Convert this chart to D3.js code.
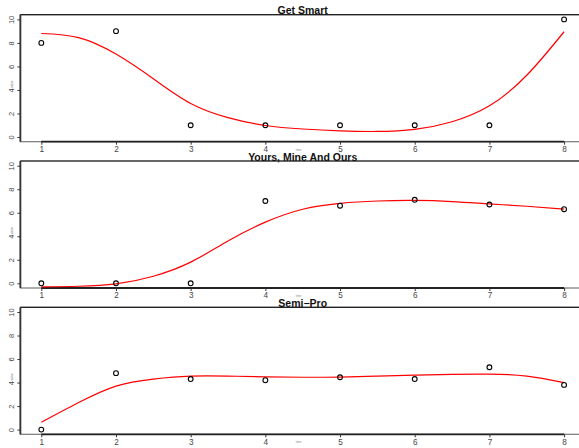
<!DOCTYPE html>
<html><head><meta charset="utf-8">
<script src="https://cdn.jsdelivr.net/npm/d3@7"></script>
<style>body{margin:0;background:#fff}svg{display:block}</style>
</head><body>
<svg id="c" width="579" height="448"></svg>
<script>
const titles = ["Get Smart", "Yours, Mine And Ours", "Semi\u2212Pro"];
const xs = [1, 2, 3, 4, 5, 6, 7, 8];
const xTicks = [1, 2, 3, 4, 5, 6, 7, 8];
const yTicks = [0, 2, 4, 6, 8, 10];
const pointsGetSmart = [8, 9, 1, 1, 1, 1, 1, 10];
const pointsYours = [0, 0, 0, 7, 6.6, 7.1, 6.7, 6.3];
const pointsSemiPro = [0, 4.8, 4.3, 4.2, 4.45, 4.3, 5.3, 3.8];
const curveX = [1, 1.5, 2, 2.5, 3, 3.5, 4, 4.5, 5, 5.5, 6, 6.5, 7, 7.5, 8];
const curveGetSmart = [8.8, 8.45, 7.05, 4.95, 2.85, 1.65, 0.98, 0.68, 0.52, 0.47, 0.65, 1.3, 2.65, 5.25, 8.95];
const curveYours = [-0.3, -0.25, -0.05, 0.6, 1.8, 3.6, 5.2, 6.3, 6.8, 7.0, 7.05, 6.95, 6.75, 6.55, 6.3];
const curveSemiPro = [0.62, 2.3, 3.7, 4.3, 4.55, 4.55, 4.48, 4.45, 4.47, 4.55, 4.63, 4.7, 4.72, 4.55, 4.0];

const series = [
  {title: titles[0], pts: pointsGetSmart, curve: curveGetSmart},
  {title: titles[1], pts: pointsYours, curve: curveYours},
  {title: titles[2], pts: pointsSemiPro, curve: curveSemiPro}
];

const svg = d3.select("#c");
const left = 20.4, right = 585, panelH = 127, firstTop = 14.7, step = 146.3;
const x = d3.scaleLinear().domain([0.72, 8.28]).range([left, right]);

series.forEach((s, i) => {
  const top = firstTop + step * i, bottom = top + panelH;
  const y = d3.scaleLinear().domain([-0.4, 10.4]).range([bottom, top]);
  const g = svg.append("g");

  // box
  g.append("rect").attr("x", left).attr("y", top).attr("width", right - left).attr("height", panelH)
    .attr("fill", "none").attr("stroke", "#777").attr("stroke-width", 1.2);
  g.append("line").attr("x1", left).attr("x2", right).attr("y1", top).attr("y2", top)
    .attr("stroke", "#222").attr("stroke-width", 1.2);
  g.append("line").attr("x1", left).attr("x2", left).attr("y1", top).attr("y2", bottom)
    .attr("stroke", "#333").attr("stroke-width", 1.8);

  // x axis
  const xa = g.append("g").attr("transform", `translate(0,${bottom})`)
    .call(d3.axisBottom(x).tickValues(xTicks).tickSize(3).tickPadding(1.5).tickFormat(d3.format("d")));
  xa.select(".domain").attr("d", `M${x(1)},0H${x(8)}`).attr("stroke", "#222").attr("stroke-width", 1.8);
  xa.selectAll(".tick line").attr("stroke", "#333");
  xa.selectAll(".tick text").attr("font-family", "Liberation Sans, Arial, sans-serif")
    .attr("font-size", 8.2).attr("fill", "#444");

  // y axis
  const ya = g.append("g").attr("transform", `translate(${left},0)`)
    .call(d3.axisLeft(y).tickValues(yTicks).tickSize(3).tickFormat(d3.format("d")));
  ya.select(".domain").remove();
  ya.selectAll(".tick line").attr("stroke", "#333");
  ya.selectAll(".tick text").attr("font-family", "Liberation Sans, Arial, sans-serif")
    .attr("font-size", 7.5).attr("fill", "#444")
    .attr("text-anchor", "middle").attr("transform", "translate(-9,0) rotate(-90)")
    .attr("x", 0).attr("dy", "0.35em");

  // tiny axis labels
  g.append("text").attr("x", (left + right) / 2 - 4).attr("y", bottom + 9).attr("text-anchor", "middle")
    .attr("font-size", 3).attr("fill", "#888").attr("font-family", "Liberation Sans, Arial, sans-serif").text("time");
  g.append("text").attr("transform", `translate(13,${(top + bottom) / 2 + 6}) rotate(-90)`).attr("text-anchor", "middle")
    .attr("font-size", 3).attr("fill", "#888").attr("font-family", "Liberation Sans, Arial, sans-serif").text("value");

  // curve
  const line = d3.line().x((d, k) => x(curveX[k])).y(d => y(d)).curve(d3.curveNatural);
  g.append("path").datum(s.curve).attr("d", line).attr("fill", "none")
    .attr("stroke", "#ff0000").attr("stroke-width", 1.2);

  // points
  g.selectAll("circle.p").data(s.pts).join("circle")
    .attr("cx", (d, k) => x(xs[k])).attr("cy", d => y(d)).attr("r", 2.4)
    .attr("fill", "none").attr("stroke", "#000").attr("stroke-width", 1.1);

  // title
  g.append("text").attr("x", (left + right) / 2).attr("y", top - 0.5).attr("text-anchor", "middle")
    .attr("font-family", "Liberation Sans, Arial, sans-serif").attr("font-weight", "bold")
    .attr("font-size", 10.5).attr("fill", "#111").text(s.title);
});
</script>
</body></html>
